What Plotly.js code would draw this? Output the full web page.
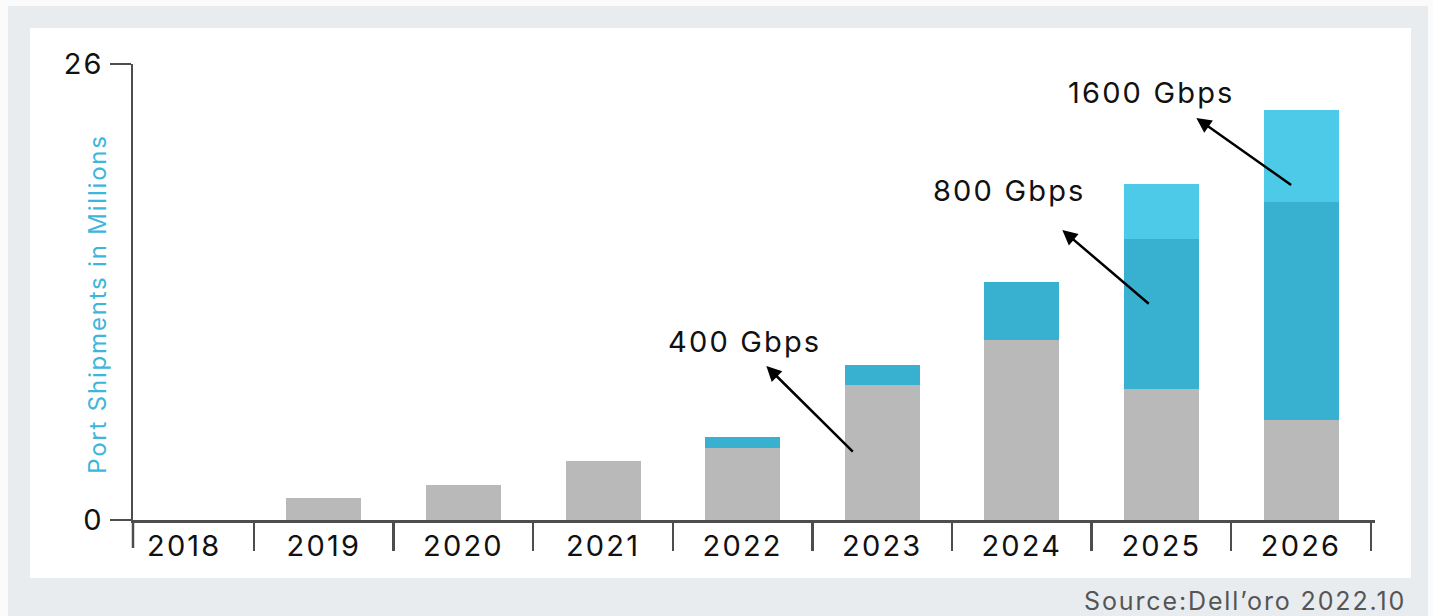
<!DOCTYPE html>
<html>
<head>
<meta charset="utf-8">
<script src="https://cdn.plot.ly/plotly-3.0.1.min.js"></script>
<style>
  html, body { margin: 0; padding: 0; background: #fbfbfb; }
  #frame { position: absolute; left: 8px; top: 6px; width: 1420px; height: 610px; background: #e9ecef; }
  #panel { position: absolute; left: 30px; top: 28px; width: 1381px; height: 550px; background: #ffffff; }
  #chart { position: absolute; left: 0; top: 0; width: 1433px; height: 616px; }
  svg text { letter-spacing: 0.075em; }
</style>
</head>
<body>
<div id="frame"></div>
<div id="panel"></div>
<div id="chart"></div>
<script>
// Port shipments (millions) by year
const years = ['2018', '2019', '2020', '2021', '2022', '2023', '2024', '2025', '2026'];
const otherSpeeds = [0, 1.25, 2.0, 3.36, 4.12, 7.70, 10.26, 7.47, 5.70];
const gbps400_800 = [0, 0, 0, 0, 0.61, 1.14, 3.31, 8.55, 12.43];
const gbps1600 = [0, 0, 0, 0, 0, 0, 0, 3.14, 5.25];
const yTicks = [0, 26];

// Callout labels: text position and arrow (tail on the bar, head near the text)
const callouts = [
  { text: '400 Gbps', tx: 4.01, ty: 10.2, hx: 4.17, hy: 8.78, sx: 4.80, sy: 3.82 },
  { text: '800 Gbps', tx: 5.91, ty: 18.76, hx: 6.29, hy: 16.53, sx: 6.92, sy: 12.26 },
  { text: '1600 Gbps', tx: 6.93, ty: 24.4, hx: 7.25, hy: 22.92, sx: 7.94, sy: 19.04 }
];

const FONT = 'Inter, "Liberation Sans", Arial, sans-serif';
const AXIS = '#4d4d4d';

const traces = [
  { name: 'Other', x: years, y: otherSpeeds, type: 'bar', marker: { color: '#b9b9b9' }, hoverinfo: 'x+y+name' },
  { name: '400/800 Gbps', x: years, y: gbps400_800, type: 'bar', marker: { color: '#38b1d1' }, hoverinfo: 'x+y+name' },
  { name: '1600 Gbps', x: years, y: gbps1600, type: 'bar', marker: { color: '#4ccae7' }, hoverinfo: 'x+y+name' }
];

const annotations = [];
callouts.forEach(c => {
  annotations.push({
    x: c.tx, y: c.ty, xref: 'x', yref: 'y', text: c.text, showarrow: false,
    font: { family: FONT, size: 29, color: '#111111' }
  });
  annotations.push({
    x: c.hx, y: c.hy, xref: 'x', yref: 'y', ax: c.sx, ay: c.sy, axref: 'x', ayref: 'y',
    text: '', showarrow: true, arrowhead: 2, arrowsize: 1.2, arrowwidth: 2.5, arrowcolor: '#000000',
    standoff: 0, startstandoff: 0
  });
});
annotations.push({
  text: 'Port Shipments in Millions', xref: 'paper', yref: 'paper', x: -0.0282, y: 0.474,
  textangle: -90, showarrow: false, xanchor: 'center', yanchor: 'middle',
  font: { family: FONT, size: 24, color: '#3db6da' }
});
annotations.push({
  text: 'Source:Dell\u2019oro 2022.10', xref: 'paper', yref: 'paper', x: 1.0262, y: -0.178,
  xanchor: 'right', yanchor: 'middle', showarrow: false,
  font: { family: FONT, size: 25, color: '#555555' }
});

const layout = {
  width: 1433, height: 616,
  margin: { l: 133, r: 58, t: 64, b: 96 },
  paper_bgcolor: 'rgba(0,0,0,0)', plot_bgcolor: 'rgba(0,0,0,0)',
  barmode: 'stack', bargap: 0.463, showlegend: false,
  font: { family: FONT, color: '#111111' },
  xaxis: {
    type: 'category', range: [-0.367, 8.53], showgrid: false, zeroline: false,
    showline: true, linecolor: AXIS, linewidth: 3,
    ticks: 'outside', tickson: 'boundaries', ticklen: 28, tickwidth: 2.5, tickcolor: AXIS,
    ticklabelstandoff: -2,
    tickfont: { family: FONT, size: 29, color: '#111111' }
  },
  yaxis: {
    range: [0, 26], tickvals: yTicks, ticktext: yTicks.map(String), showgrid: false, zeroline: false,
    showline: true, linecolor: AXIS, linewidth: 2.5,
    ticks: 'outside', ticklen: 21, tickwidth: 2.5, tickcolor: AXIS,
    tickfont: { family: FONT, size: 29, color: '#111111' }
  },
  shapes: [
    { type: 'line', xref: 'paper', yref: 'paper', x0: 0, x1: 0, y0: 0, y1: -0.0614,
      line: { color: AXIS, width: 2.5 } }
  ],
  annotations: annotations
};

Plotly.newPlot('chart', traces, layout, { displayModeBar: false, staticPlot: true });
</script>
</body>
</html>
